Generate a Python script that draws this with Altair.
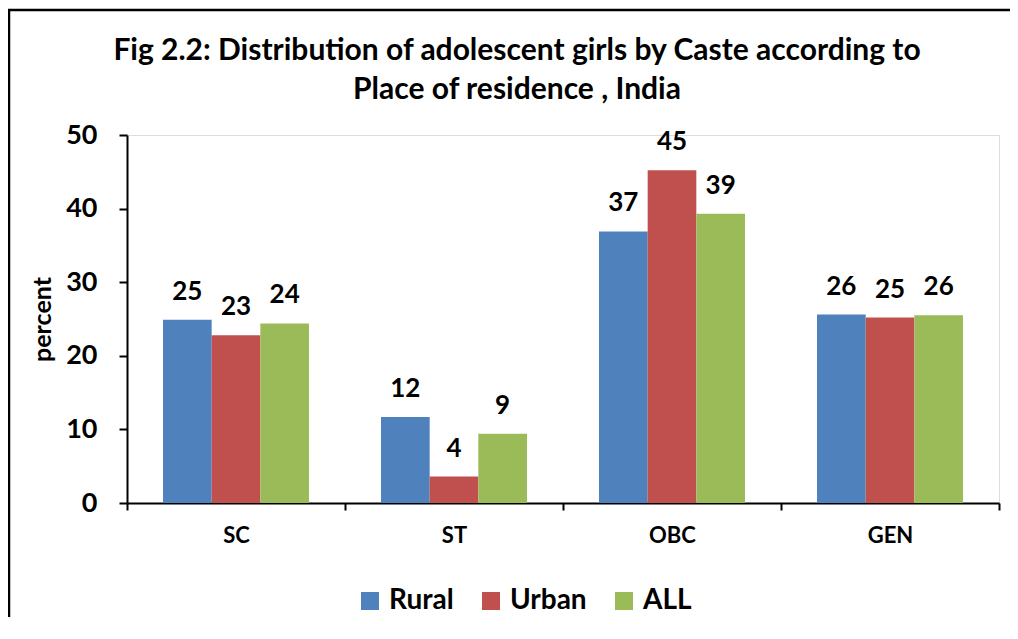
import altair as alt
import pandas as pd

castes = ["SC", "ST", "OBC", "GEN"]
series = ["Rural", "Urban", "ALL"]
rural = [24.9, 11.7, 36.9, 25.6]
urban = [22.8, 3.6, 45.2, 25.2]
all_vals = [24.4, 9.4, 39.3, 25.5]
colors = ["#4F81BD", "#C0504D", "#9BBB59"]
y_ticks = [0, 10, 20, 30, 40, 50]
title_lines = ["Fig 2.2: Distribution of adolescent girls by Caste according to",
               "Place of residence , India"]

rows = []
for s, vals in zip(series, [rural, urban, all_vals]):
    for c, v in zip(castes, vals):
        rows.append({"caste": c, "series": s, "value": v})
df = pd.DataFrame(rows)

W, H = 872, 368
FONT = "Lato"

x_enc = alt.X("caste:N", sort=castes, title=None,
              scale=alt.Scale(paddingInner=0, paddingOuter=0),
              axis=alt.Axis(labelFont=FONT, labelFontSize=22, labelFontWeight="bold",
                            labelColor="black", labelAngle=0, labelPadding=15,
                            tickBand="extent", tickSize=7, tickWidth=2, tickColor="black",
                            domainColor="black", domainWidth=2, grid=False))
xo_enc = alt.XOffset("series:N", sort=series,
                     scale=alt.Scale(paddingInner=0, paddingOuter=0.74))
y_enc = alt.Y("value:Q", title="percent",
              scale=alt.Scale(domain=[0, 50], nice=False, zero=True),
              axis=alt.Axis(values=y_ticks, labelFont=FONT, labelFontSize=27,
                            labelFontWeight="bold", labelColor="black", labelPadding=22,
                            tickSize=8, tickWidth=2, tickColor="black",
                            domainColor="black", domainWidth=2, grid=False,
                            titleFont=FONT, titleFontSize=25, titleFontWeight="bold",
                            titleColor="black", titlePadding=10))

bars = alt.Chart(df).mark_bar(stroke="transparent").encode(
    x=x_enc, xOffset=xo_enc, y=y_enc,
    color=alt.Color("series:N", sort=series,
                    scale=alt.Scale(domain=series, range=colors),
                    legend=alt.Legend(title=None, orient="none", direction="horizontal",
                                      legendX=229, legendY=452, padding=0,
                                      symbolType="square", symbolSize=324,
                                      symbolStrokeWidth=0, labelFont=FONT,
                                      labelFontSize=28, labelFontWeight="bold",
                                      labelColor="black", labelOffset=5,
                                      columnPadding=23, labelLimit=300))
)

labels = alt.Chart(df).mark_text(font=FONT, fontSize=26, fontWeight="bold",
                                 color="black", baseline="alphabetic", dy=-20).encode(
    x=alt.X("caste:N", sort=castes),
    xOffset=alt.XOffset("series:N", sort=series),
    y="value:Q",
    text=alt.Text("value:Q", format=".0f"),
)

frame = pd.DataFrame({"k": [0]})
left_border = alt.Chart(frame).mark_rule(color="black", strokeWidth=2.5).encode(
    x=alt.value(-118), y=alt.value(-126), y2=alt.value(H + 114))
top_border = alt.Chart(frame).mark_rule(color="black", strokeWidth=2.5).encode(
    x=alt.value(-119), x2=alt.value(W + 11), y=alt.value(-125))

chart = alt.layer(bars, labels, left_border, top_border).properties(
    width=W, height=H,
    autosize=alt.AutoSizeParams(type="none"),
    padding={"left": 119, "top": 127, "right": 11, "bottom": 115},
    title=alt.TitleParams(text=title_lines, font=FONT, fontSize=30, fontWeight="bold",
                          color="black", anchor="middle", frame="group", dx=-46,
                          lineHeight=39, baseline="alphabetic", offset=-121),
).configure_view(strokeWidth=0, stroke="transparent").configure(background="white")

chart.save("out.html", embed_options={"renderer": "svg", "actions": False})
